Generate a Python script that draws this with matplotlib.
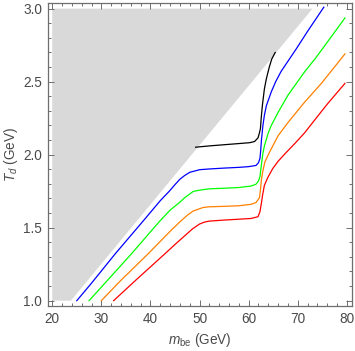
import numpy as np
import matplotlib
matplotlib.use("Agg")
import matplotlib.pyplot as plt
from matplotlib.ticker import MultipleLocator

plt.rcParams["font.family"] = ["Liberation Sans", "DejaVu Sans"]
plt.rcParams["mathtext.fontset"] = "custom"
plt.rcParams["mathtext.rm"] = "Liberation Sans"
plt.rcParams["mathtext.it"] = "Liberation Sans:italic"

# excluded (gray) region: corners of the polygon
excl_m = [20.0, 23.8, 73.0, 20.0]
excl_T = [1.0, 1.0, 3.0, 3.0]

# curves (m_be in GeV, T_d in GeV)
blue_m = [25.0, 28.0, 32.8, 38.5, 42.0, 43.9, 45.0, 46.0, 47.0, 48.0, 50.0, 52.0,
          55.0, 58.0, 60.0, 61.5, 62.0, 62.3, 62.45, 62.6, 62.9, 63.2, 63.6, 64.6,
          65.5, 66.6, 68.0, 69.7, 72.0, 75.3]
blue_T = [1.00, 1.12, 1.32, 1.545, 1.685, 1.752, 1.795, 1.832, 1.858, 1.879, 1.897, 1.902,
          1.908, 1.913, 1.918, 1.926, 1.945, 1.975, 2.03, 2.10, 2.20, 2.27, 2.335, 2.43,
          2.50, 2.57, 2.64, 2.725, 2.845, 3.01]

green_m = [27.5, 31.0, 36.1, 41.9, 44.0, 46.0, 47.0, 48.7, 50.0, 52.0, 55.0, 58.0,
           60.5, 61.5, 62.0, 62.3, 62.55, 62.9, 63.2, 64.0, 64.6, 66.0, 68.0, 71.4,
           73.6, 76.0, 79.6]
green_T = [1.00, 1.13, 1.32, 1.545, 1.62, 1.675, 1.706, 1.748, 1.757, 1.766, 1.770, 1.775,
           1.785, 1.798, 1.82, 1.85, 1.92, 2.01, 2.06, 2.15, 2.20, 2.29, 2.407, 2.568,
           2.66, 2.77, 2.936]

orange_m = [30.0, 34.0, 39.5, 44.0, 46.0, 47.5, 48.7, 50.7, 52.0, 55.0, 58.0, 60.5, 61.5,
            62.2, 62.4, 62.6, 62.9, 63.3, 64.0, 64.6, 66.0, 68.0, 71.4, 74.8, 78.9, 79.6]
orange_T = [1.00, 1.14, 1.32, 1.475, 1.54, 1.585, 1.614, 1.638, 1.643, 1.646, 1.650, 1.660,
            1.672, 1.706, 1.76, 1.83, 1.89, 1.95, 2.00, 2.04, 2.13, 2.22, 2.36, 2.488, 2.66, 2.69]

red_m = [32.5, 37.0, 42.9, 45.0, 47.0, 48.5, 50.0, 51.0, 52.0, 55.0, 58.0, 60.5, 61.9, 62.3,
         62.6, 62.8, 63.2, 63.9, 64.9, 66.0, 67.5, 69.5, 71.4, 73.5, 76.1, 79.6]
red_T = [1.00, 1.14, 1.32, 1.385, 1.445, 1.49, 1.525, 1.538, 1.545, 1.552, 1.558, 1.563,
         1.575, 1.61, 1.67, 1.717, 1.79, 1.844, 1.905, 1.955, 2.01, 2.08, 2.15, 2.24, 2.35,
         2.488]

black_m = [49.2, 52.0, 55.0, 58.0, 60.2, 61.2, 61.9, 62.2, 62.4, 62.55, 62.8, 63.2,
           63.6, 64.2, 64.7, 65.4]
black_T = [2.051, 2.060, 2.068, 2.076, 2.082, 2.09, 2.115, 2.15, 2.18, 2.25, 2.34, 2.45,
           2.52, 2.60, 2.655, 2.70]

fig = plt.figure(figsize=(3.55, 3.51), dpi=100)
ax = fig.add_axes([0.134, 0.128, 0.857, 0.864])

ax.fill(excl_m, excl_T, color="#d9d9d9", lw=0, zorder=1)
for m, T, c in [(black_m, black_T, "black"), (blue_m, blue_T, "#0000ff"),
                (green_m, green_T, "#00ff00"), (orange_m, orange_T, "#ff8000"),
                (red_m, red_T, "#ff0000")]:
    ax.plot(m, T, color=c, lw=0.9, zorder=3)

ax.set_xlim(19.05, 81.0)
ax.set_ylim(0.963, 3.04)
ax.xaxis.set_major_locator(MultipleLocator(10))
ax.xaxis.set_minor_locator(MultipleLocator(2))
ax.yaxis.set_major_locator(MultipleLocator(0.5))
ax.yaxis.set_minor_locator(MultipleLocator(0.1))
ax.yaxis.set_major_formatter(matplotlib.ticker.FormatStrFormatter("%.1f"))

frame_col = "#6e6e6e"
text_col = "#4a4a4a"
for s in ax.spines.values():
    s.set_color(frame_col); s.set_linewidth(0.9)
ax.tick_params(which="both", direction="in", top=True, right=True,
               color=frame_col, width=0.7, labelcolor=text_col, labelsize=9.8, pad=4)
ax.tick_params(which="major", length=4)
ax.tick_params(which="minor", length=2.2)

ax.set_xlabel(r"$m_{\rm be}$ (GeV)", color=text_col, fontsize=9.8, labelpad=4)
ax.set_ylabel(r"$T_d$ (GeV)", color=text_col, fontsize=9.8)
ax.yaxis.set_label_coords(-0.09, 0.5)

fig.savefig("out.png", dpi=100)
